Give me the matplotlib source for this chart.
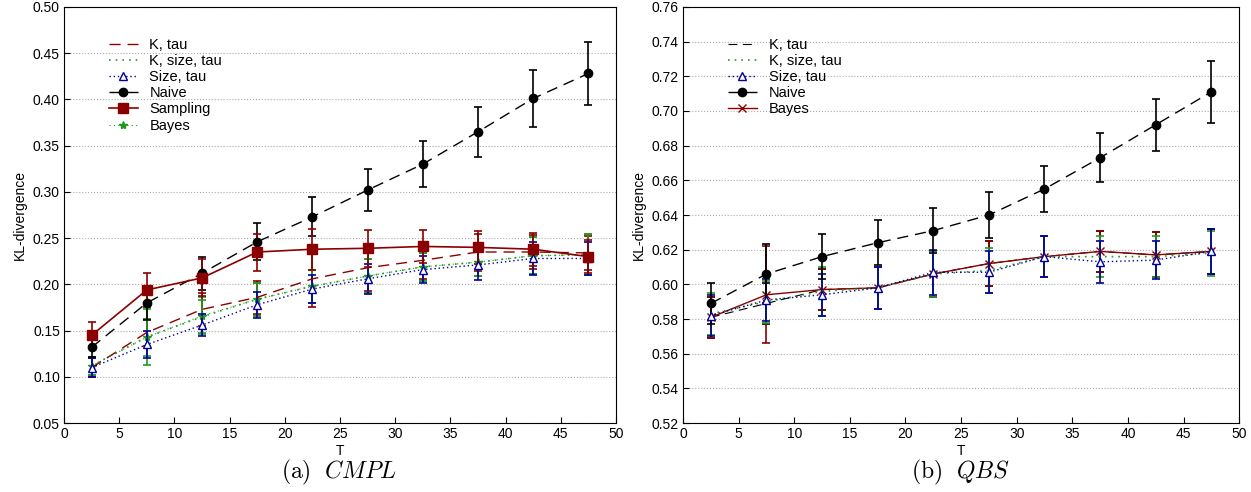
import matplotlib
matplotlib.use("Agg")
import matplotlib.pyplot as plt

plt.rcParams['font.family'] = ['Liberation Sans', 'DejaVu Sans']
plt.rcParams['mathtext.fontset'] = 'cm'

T = [2.5, 7.5, 12.5, 17.5, 22.5, 27.5, 32.5, 37.5, 42.5, 47.5]

# CMPL
cmpl_ktau = [0.110, 0.148, 0.173, 0.186, 0.206, 0.218, 0.226, 0.235, 0.235, 0.234]
cmpl_ktau_err = [0.010, 0.015, 0.018, 0.018, 0.030, 0.025, 0.020, 0.020, 0.018, 0.018]
cmpl_ksize = [0.112, 0.143, 0.165, 0.184, 0.198, 0.209, 0.219, 0.224, 0.231, 0.232]
cmpl_ksize_err = [0.010, 0.020, 0.018, 0.018, 0.018, 0.018, 0.015, 0.015, 0.020, 0.022]
cmpl_size = [0.110, 0.135, 0.156, 0.178, 0.195, 0.206, 0.216, 0.221, 0.228, 0.228]
cmpl_size_err = [0.010, 0.015, 0.012, 0.014, 0.015, 0.016, 0.015, 0.016, 0.018, 0.018]
cmpl_naive = [0.132, 0.180, 0.212, 0.246, 0.273, 0.302, 0.330, 0.365, 0.401, 0.428]
cmpl_naive_err = [0.010, 0.018, 0.018, 0.020, 0.021, 0.023, 0.025, 0.027, 0.031, 0.034]
cmpl_samp = [0.145, 0.194, 0.207, 0.235, 0.238, 0.239, 0.241, 0.240, 0.238, 0.230]
cmpl_samp_err = [0.014, 0.018, 0.020, 0.020, 0.022, 0.020, 0.018, 0.018, 0.018, 0.018]
cmpl_bayes = [0.112, 0.143, 0.166, 0.184, 0.198, 0.209, 0.219, 0.224, 0.231, 0.232]
cmpl_bayes_err = [0.010, 0.030, 0.020, 0.018, 0.018, 0.018, 0.015, 0.015, 0.020, 0.022]

# QBS
qbs_ktau = [0.581, 0.589, 0.597, 0.598, 0.606, 0.612, 0.616, 0.619, 0.617, 0.619]
qbs_ktau_err = [0.012, 0.012, 0.012, 0.012, 0.013, 0.013, 0.012, 0.012, 0.013, 0.013]
qbs_ksize = [0.583, 0.590, 0.596, 0.598, 0.606, 0.608, 0.616, 0.616, 0.616, 0.618]
qbs_ksize_err = [0.012, 0.012, 0.014, 0.012, 0.013, 0.013, 0.012, 0.012, 0.012, 0.013]
qbs_size = [0.582, 0.591, 0.594, 0.598, 0.607, 0.607, 0.616, 0.613, 0.614, 0.619]
qbs_size_err = [0.012, 0.012, 0.012, 0.012, 0.013, 0.012, 0.012, 0.012, 0.011, 0.013]
qbs_naive = [0.589, 0.606, 0.616, 0.624, 0.631, 0.640, 0.655, 0.673, 0.692, 0.711]
qbs_naive_err = [0.012, 0.017, 0.013, 0.013, 0.013, 0.013, 0.013, 0.014, 0.015, 0.018]
qbs_bayes = [0.581, 0.594, 0.597, 0.598, 0.606, 0.612, 0.616, 0.619, 0.617, 0.619]
qbs_bayes_err = [0.012, 0.028, 0.012, 0.012, 0.013, 0.013, 0.012, 0.012, 0.013, 0.013]

labels1 = ['K, tau', 'K, size, tau', 'Size, tau', 'Naive', 'Sampling', 'Bayes']
labels2 = ['K, tau', 'K, size, tau', 'Size, tau', 'Naive', 'Bayes']

DRED = '#8b0000'
ekw = dict(capsize=3, elinewidth=1.2, capthick=1.2)

fig = plt.figure(figsize=(12.51, 4.92), dpi=100)
ax1 = fig.add_axes([0.0512, 0.140, 0.4412, 0.846])
ax2 = fig.add_axes([0.546, 0.140, 0.4445, 0.846])

def ebar(ax, y, e, **kw):
    return ax.errorbar(T, y, yerr=e, **ekw, **kw)[0]

h1 = [
    ebar(ax1, cmpl_ktau, cmpl_ktau_err, color=DRED, ls=(0, (8, 5)), lw=1),
    ebar(ax1, cmpl_ksize, cmpl_ksize_err, color='#229922', ls=(0, (1, 3)), lw=1.2),
    ebar(ax1, cmpl_size, cmpl_size_err, color='#000099', ls=(0, (1, 2)), lw=1, marker='^',
         mfc='white', mec='#000099', ms=6),
    ebar(ax1, cmpl_naive, cmpl_naive_err, color='black', ls=(0, (8, 5)), lw=1, marker='o', ms=6),
    ebar(ax1, cmpl_samp, cmpl_samp_err, color=DRED, ls='-', lw=1.2, marker='s', ms=7),
    ebar(ax1, cmpl_bayes, cmpl_bayes_err, color='#229922', ls=(0, (1, 3)), lw=0.8, marker='*', ms=6,
         zorder=1),
]

h2 = [
    ebar(ax2, qbs_ktau, qbs_ktau_err, color='black', ls=(0, (8, 5)), lw=0.8, zorder=1),
    ebar(ax2, qbs_ksize, qbs_ksize_err, color='#229922', ls=(0, (1, 3)), lw=1.2),
    ebar(ax2, qbs_size, qbs_size_err, color='#000099', ls=(0, (1, 2)), lw=1, marker='^',
         mfc='white', mec='#000099', ms=6),
    ebar(ax2, qbs_naive, qbs_naive_err, color='black', ls=(0, (8, 5)), lw=1, marker='o', ms=6),
    ebar(ax2, qbs_bayes, qbs_bayes_err, color=DRED, ls='-', lw=1, marker='x', ms=6, zorder=1),
]

for ax, hs, labs, lo, hi, step in [(ax1, h1, labels1, 0.05, 0.50, 0.05),
                                   (ax2, h2, labels2, 0.52, 0.76, 0.02)]:
    ax.set_xlim(0, 50)
    ax.set_ylim(lo, hi)
    n = int(round((hi - lo) / step))
    ax.set_yticks([lo + i * step for i in range(n + 1)])
    ax.set_yticklabels([f"{lo + i * step:.2f}" for i in range(n + 1)])
    ax.set_xticks(range(0, 51, 5))
    ax.yaxis.grid(True, ls=':', color='#aaaaaa', lw=0.8)
    ax.tick_params(direction='in', labelsize=10, length=4, pad=3)
    ax.set_xlabel('T', fontsize=10, labelpad=2)
    ax.set_ylabel('KL-divergence', fontsize=10)
    ax.legend(hs, labs, loc='upper left', bbox_to_anchor=(0.07, 0.94),
              frameon=False, fontsize=10.5, handlelength=2.0, labelspacing=0.15, borderaxespad=0)

fig.text(0.271, 0.04, r'$\mathrm{(a)}\ \ \mathit{CMPL}$', ha='center', va='center', fontsize=17)
fig.text(0.768, 0.04, r'$\mathrm{(b)}\ \ \mathit{QBS}$', ha='center', va='center', fontsize=17)

fig.savefig('out.png', dpi=100)
